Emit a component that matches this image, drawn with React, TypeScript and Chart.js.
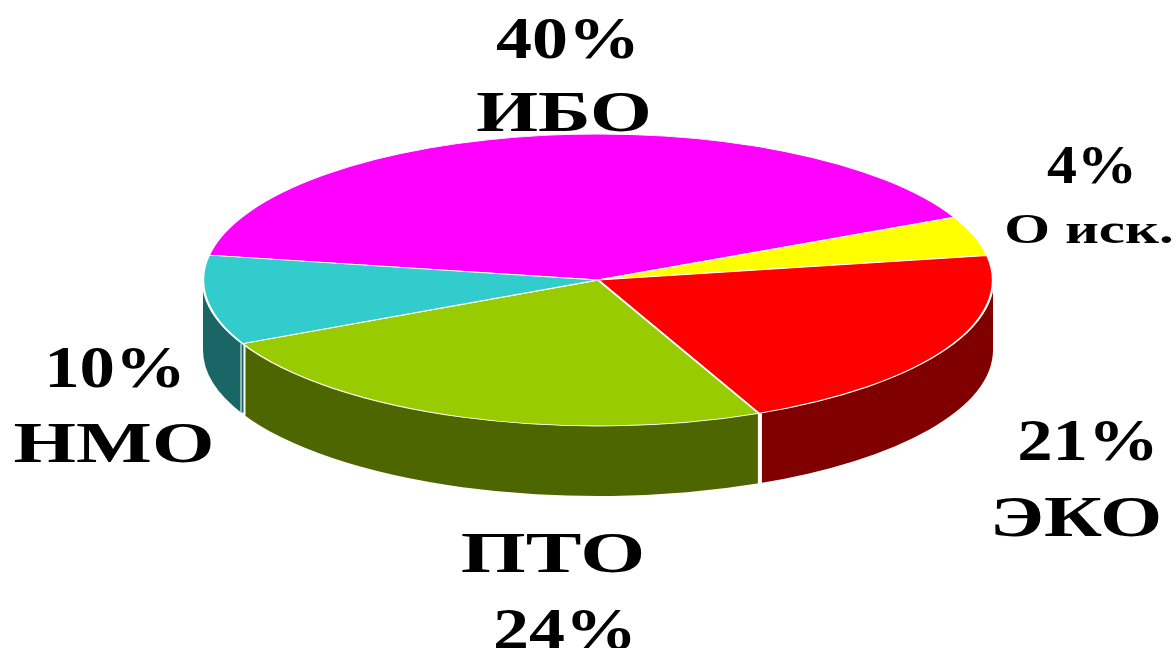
import React, { useEffect, useRef } from "react";
import { Chart, registerables } from "chart.js";

Chart.register(...registerables);

const categories = ["ИБО", "О иск.", "ЭКО", "ПТО", "НМО"];
const values = [40.2, 4.4, 21, 24.5, 9.9];
const percentLabels = ["40%", "4%", "21%", "24%", "10%"];
const topColors = ["#FF00FF", "#FFFF00", "#FF0000", "#99CC00", "#33CCCC"];
const sideColors = ["#800080", "#808000", "#800000", "#4D6600", "#1A6666"];

const RX = 395;
const RY = 146;
const CX = 598;
const CY = 280;
const DEPTH = 70;
const FONT = '"Liberation Serif", serif';

type Lab = { text: string; x: number; base: number; size: number; sx: number };
const labelLayout: Lab[] = [
  { text: percentLabels[0], x: 568, base: 58, size: 59, sx: 1.22 },
  { text: categories[0], x: 564, base: 131, size: 58, sx: 1.37 },
  { text: percentLabels[1], x: 1092, base: 183, size: 54, sx: 1.11 },
  { text: categories[1], x: 1089, base: 243, size: 43, sx: 1.37 },
  { text: percentLabels[2], x: 1088, base: 460, size: 59, sx: 1.2 },
  { text: categories[2], x: 1076, base: 536, size: 58, sx: 1.38 },
  { text: categories[3], x: 553, base: 572, size: 58, sx: 1.44 },
  { text: percentLabels[3], x: 565, base: 649, size: 59, sx: 1.22 },
  { text: percentLabels[4], x: 115, base: 387, size: 59, sx: 1.2 },
  { text: categories[4], x: 114, base: 462, size: 58, sx: 1.385 },
];

const pie3d = {
  id: "pie3d",
  beforeDatasetsDraw(chart: any) {
    const ctx = chart.ctx;
    const arcs = chart.getDatasetMeta(0).data;
    const a0 = arcs[0];
    const r0 = a0.outerRadius;
    // side wall: only the front half of the ellipse shows
    arcs.forEach((a: any, i: number) => {
      for (let k = -1; k <= 2; k++) {
        const lo = Math.max(a.startAngle, 2 * Math.PI * k);
        const hi = Math.min(a.endAngle, 2 * Math.PI * k + Math.PI);
        if (hi <= lo) continue;
        ctx.beginPath();
        ctx.ellipse(CX, CY, RX, RY, 0, lo, hi);
        ctx.ellipse(CX, CY + DEPTH, RX, RY, 0, hi, lo, true);
        ctx.closePath();
        ctx.fillStyle = sideColors[i];
        ctx.fill();
      }
    });
    // white seams on the front of the wall
    arcs.forEach((a: any, i: number) => {
      if (Math.sin(a.startAngle) <= 0.05) return;
      const x = CX + RX * Math.cos(a.startAngle);
      const y = CY + RY * Math.sin(a.startAngle);
      const wall = Math.cos(a.startAngle) < 0;
      ctx.save();
      ctx.lineWidth = wall ? 5 : 4;
      ctx.strokeStyle = "#FFFFFF";
      ctx.beginPath();
      ctx.moveTo(x + (wall ? 0.5 : 1), y);
      ctx.lineTo(x + (wall ? 0.5 : 1), y + DEPTH + 2);
      ctx.stroke();
      if (wall) {
        ctx.lineWidth = 2;
        ctx.strokeStyle = sideColors[i];
        ctx.beginPath();
        ctx.moveTo(x, y);
        ctx.lineTo(x, y + DEPTH - 1);
        ctx.stroke();
      }
      ctx.restore();
    });
    ctx.save();
    ctx.translate(CX, CY);
    ctx.scale(RX / r0, RY / r0);
    ctx.translate(-a0.x, -a0.y);
  },
  afterDatasetsDraw(chart: any) {
    const ctx = chart.ctx;
    ctx.restore();
    ctx.save();
    ctx.fillStyle = "#000000";
    ctx.textAlign = "center";
    ctx.textBaseline = "alphabetic";
    labelLayout.forEach((l) => {
      ctx.save();
      ctx.translate(l.x, l.base);
      ctx.scale(l.sx, 1);
      ctx.font = `bold ${l.size}px ${FONT}`;
      ctx.fillText(l.text, 0, 0);
      ctx.restore();
    });
    ctx.restore();
  },
};

export default function App() {
  const ref = useRef<HTMLCanvasElement>(null);
  useEffect(() => {
    document.body.style.margin = "0";
    const chart = new Chart(ref.current!, {
      type: "pie",
      data: {
        labels: categories,
        datasets: [
          {
            data: values,
            backgroundColor: topColors,
            borderColor: "#FFFFFF",
            borderWidth: 2,
          },
        ],
      },
      options: {
        animation: false,
        responsive: false,
        rotation: 279.8,
        layout: { padding: 0 },
        plugins: { legend: { display: false }, tooltip: { enabled: false } },
      },
      plugins: [pie3d],
    } as any);
    return () => chart.destroy();
  }, []);
  return <canvas ref={ref} width={1176} height={648} style={{ display: "block" }} />;
}
